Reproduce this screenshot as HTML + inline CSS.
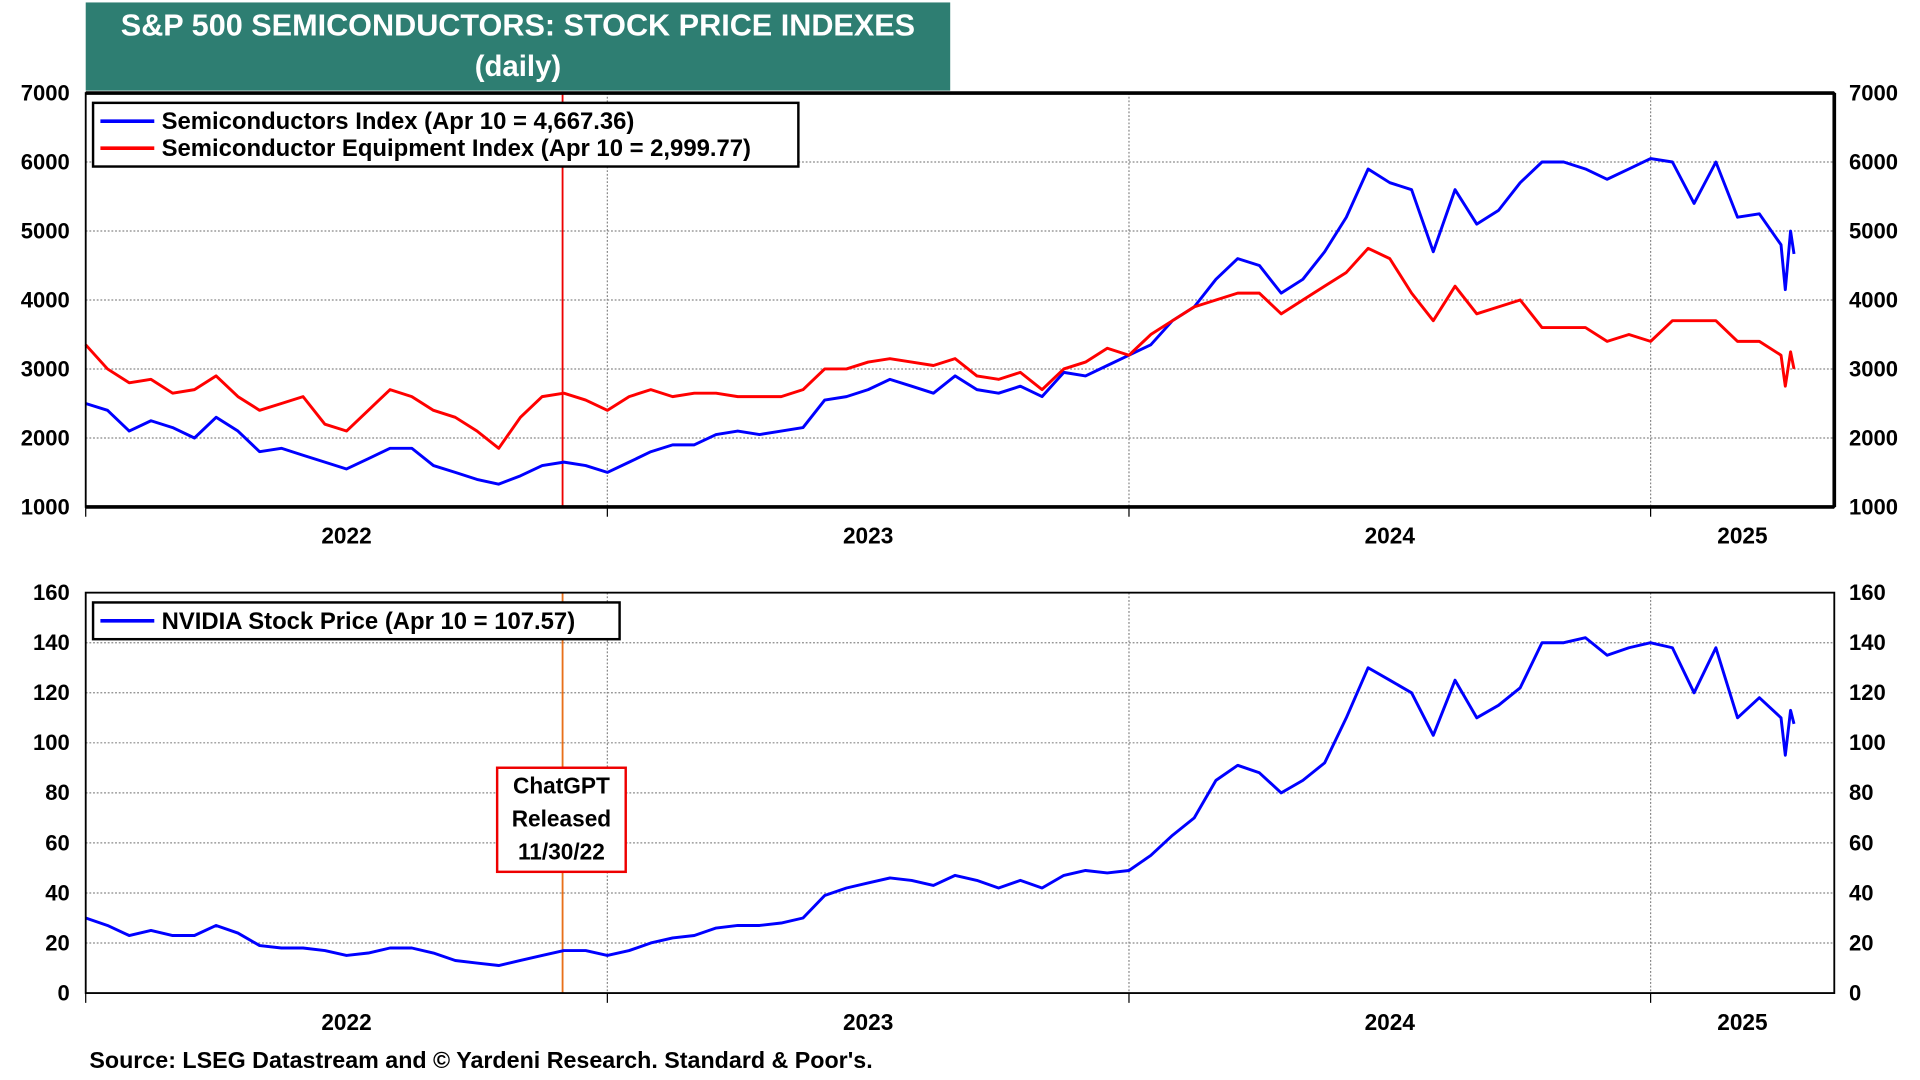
<!DOCTYPE html>
<html><head><meta charset="utf-8"><style>
html,body{margin:0;padding:0;background:#fff;width:1920px;height:1080px;overflow:hidden}
svg{display:block}
text{font-family:"Liberation Sans",Arial,sans-serif;font-weight:bold;fill:#000}
</style></head><body>
<svg id="chart" width="1920" height="1080" viewBox="0 0 1568 882" xmlns="http://www.w3.org/2000/svg">
<rect x="70" y="2" width="706" height="72" fill="#2E7E72"/>
<text x="423" y="29" text-anchor="middle" font-size="25" style="fill:#fff">S&amp;P 500 SEMICONDUCTORS: STOCK PRICE INDEXES</text>
<text x="423" y="62" text-anchor="middle" font-size="24" style="fill:#fff">(daily)</text>
<g id="top"></g>
<g id="bot"></g>
<text x="73" y="872" font-size="19">Source: LSEG Datastream and © Yardeni Research. Standard &amp; Poor's.</text>
</svg>
<script>
// months since Jan 1 2022
const months = [];
for (let k = 0; k <= 78; k++) months.push(k * 0.5);
months.push(39.1, 39.22, 39.3);
const semiconductors = [2500,2400,2100,2250,2150,2000,2300,2100,1800,1850,1750,1650,1550,1700,1850,1850,1600,1500,1400,1330,1450,1600,1650,1600,1500,1650,1800,1900,1900,2050,2100,2050,2100,2150,2550,2600,2700,2850,2750,2650,2900,2700,2650,2750,2600,2950,2900,3050,3200,3350,3700,3900,4300,4600,4500,4100,4300,4700,5200,5900,5700,5600,4700,5600,5100,5300,5700,6000,6000,5900,5750,5900,6050,6000,5400,6000,5200,5250,4800,4150,5000,4667];
const equipment = [3350,3000,2800,2850,2650,2700,2900,2600,2400,2500,2600,2200,2100,2400,2700,2600,2400,2300,2100,1850,2300,2600,2650,2550,2400,2600,2700,2600,2650,2650,2600,2600,2600,2700,3000,3000,3100,3150,3100,3050,3150,2900,2850,2950,2700,3000,3100,3300,3200,3500,3700,3900,4000,4100,4100,3800,4000,4200,4400,4750,4600,4100,3700,4200,3800,3900,4000,3600,3600,3600,3400,3500,3400,3700,3700,3700,3400,3400,3200,2750,3250,3000];
const nvidia = [30,27,23,25,23,23,27,24,19,18,18,17,15,16,18,18,16,13,12,11,13,15,17,17,15,17,20,22,23,26,27,27,28,30,39,42,44,46,45,43,47,45,42,45,42,47,49,48,49,55,63,70,85,91,88,80,85,92,110,130,125,120,103,125,110,115,122,140,140,142,135,138,140,138,120,138,110,118,110,95,113,107.57];
const topTicks = [1000,2000,3000,4000,5000,6000,7000];
const botTicks = [0,20,40,60,80,100,120,140,160];
const yearLabels = ["2022","2023","2024","2025"];
const yearStart = [0,12,24,36];

const NS = "http://www.w3.org/2000/svg";
const X0 = 70, X1 = 1498, PXM = 426/12;
const xs = m => X0 + m * PXM;
function mk(tag, attrs, parent, txt) {
  const e = document.createElementNS(NS, tag);
  for (const k in attrs) e.setAttribute(k, attrs[k]);
  if (txt !== undefined) e.textContent = txt;
  parent.appendChild(e); return e;
}
function panel(g, top, bot, vmin, vmax, ticks, series, colors, names, legendW, legendTexts, thick) {
  const ys = v => bot - (v - vmin) / (vmax - vmin) * (bot - top);
  ticks.forEach(t => {
    const y = ys(t);
    if (t !== vmin && t !== vmax) { const l = mk('line', {x1: X0, x2: X1, y1: y, y2: y, stroke: '#888', 'stroke-width': 1, 'stroke-dasharray': '1.5,1.5'}, g);
      
       }
    const a = mk('text', {x: 57, y: y + 6, 'text-anchor': 'end', 'font-size': 18}, g, t);
    
    
    const b = mk('text', {x: 1510, y: y + 6, 'font-size': 18}, g, t);
    
    
  });
  yearStart.forEach((m, i) => {
    const x = xs(m);
    if (i > 0) { const l = mk('line', {x1: x, x2: x, y1: top, y2: bot, stroke: '#888', 'stroke-width': 1, 'stroke-dasharray': '1.5,1.5'}, g);
      
       }
    mk('line', {x1: x, x2: x, y1: bot, y2: bot + 8, stroke: '#000', 'stroke-width': 1}, g);
    const end = i < 3 ? xs(yearStart[i + 1]) : X1;
    const t = mk('text', {x: (x + end) / 2, y: bot + 30, 'text-anchor': 'middle', 'font-size': 18.5}, g, yearLabels[i]);
    
    
  });
  const cx = xs(10.97);
  const cl = mk('line', {x1: cx, x2: cx, y1: top, y2: bot, stroke: thick ? '#e00' : '#e8701a', 'stroke-width': 1.5}, g);
  
  
  series.forEach((s, si) => {
    const d = s.map((v, i) => (i ? 'L' : 'M') + xs(months[i]).toFixed(1) + ',' + ys(v).toFixed(1)).join('');
    const p = mk('path', {d: d, fill: 'none', stroke: colors[si], 'stroke-width': 2.4, 'stroke-linejoin': 'round'}, g);
    
    
  });
  const fr = mk('rect', {x: X0, y: top, width: X1 - X0, height: bot - top, fill: 'none', stroke: '#000', 'stroke-width': 1.5}, g);
  
  
  if (thick) {
    mk('line', {x1: X0, x2: X1, y1: top, y2: top, stroke: '#000', 'stroke-width': 3}, g);
    mk('line', {x1: X0, x2: X1, y1: bot, y2: bot, stroke: '#000', 'stroke-width': 3}, g);
    mk('line', {x1: X1, x2: X1, y1: top, y2: bot, stroke: '#000', 'stroke-width': 3}, g);
  }
  const lg = mk('g', {}, g);
  
  
  const lh = 8 + legendTexts.length * 22;
  mk('rect', {x: X0 + 6, y: top + 8, width: legendW, height: lh, fill: '#fff', stroke: '#000', 'stroke-width': 2}, lg);
  legendTexts.forEach((t, i) => {
    const y = top + 8 + 15 + i * 22;
    mk('line', {x1: X0 + 12, x2: X0 + 56, y1: y, y2: y, stroke: colors[i], 'stroke-width': 3}, lg);
    const tx = mk('text', {x: X0 + 62, y: y + 6.5, 'font-size': 19.5}, lg, t);
    
    
  });
}
panel(document.getElementById('top'), 76, 414, 1000, 7000, topTicks, [semiconductors, equipment], ['#0000ff', '#ff0000'], ['semiconductors-line', 'equipment-line'], 576, ['Semiconductors Index (Apr 10 = 4,667.36)', 'Semiconductor Equipment Index (Apr 10 = 2,999.77)'], true);
panel(document.getElementById('bot'), 484, 811, 0, 160, botTicks, [nvidia], ['#0000ff'], ['nvidia-line'], 430, ['NVIDIA Stock Price (Apr 10 = 107.57)'], false);
const bg = document.getElementById('bot');
const ab = mk('rect', {x: 406, y: 627, width: 105, height: 85, fill: '#fff', stroke: '#e00', 'stroke-width': 2}, bg);


['ChatGPT', 'Released', '11/30/22'].forEach((t, i) => {
  const e = mk('text', {x: 458.5, y: 648 + i * 27, 'text-anchor': 'middle', 'font-size': 18.5}, bg, t);
  
  
});
</script>
</body></html>
